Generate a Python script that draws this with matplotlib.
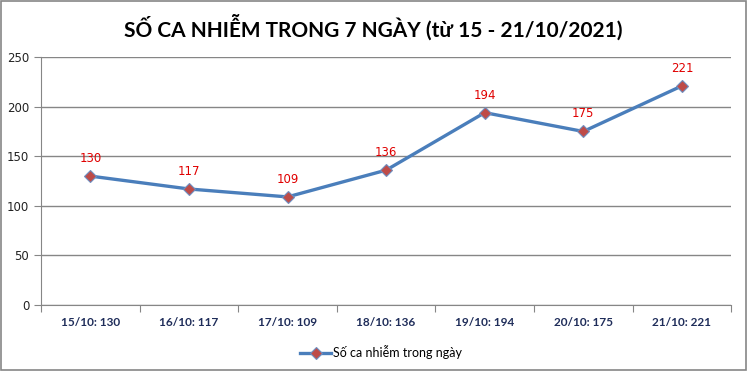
import matplotlib.pyplot as plt
from matplotlib.patches import Rectangle

days = ["15/10", "16/10", "17/10", "18/10", "19/10", "20/10", "21/10"]
cases = [130, 117, 109, 136, 194, 175, 221]
tick_labels = [f"{d}: {c}" for d, c in zip(days, cases)]

fig = plt.figure(figsize=(7.47, 3.71), dpi=100)
fig.patches.append(Rectangle((0.001, 0.002), 0.997, 0.995, transform=fig.transFigure,
                             fill=False, edgecolor="#868686", linewidth=1.2))

ax = fig.add_axes([0.0549, 0.178, 0.924, 0.668])
x = list(range(len(days)))
ax.plot(x, cases, color="#4A7EBB", linewidth=2.4, marker="D", markersize=6.5,
        markerfacecolor="#BE4B48", markeredgecolor="#6F8FC0", markeredgewidth=0.8,
        label="Số ca nhiễm trong ngày", zorder=3)

for xi, c in zip(x, cases):
    ax.annotate(str(c), (xi, c), xytext=(0, 8), textcoords="offset points",
                ha="center", va="bottom", color="#E00000", fontsize=8.5,
                family=["DejaVu Sans"])

ax.set_xlim(-0.5, len(days) - 0.5)
ax.set_ylim(0, 250)
ax.set_yticks([0, 50, 100, 150, 200, 250])
ax.grid(axis="y", color="#868686", linewidth=1)
ax.set_axisbelow(True)

ax.set_xticks([i - 0.5 for i in range(len(days) + 1)])
ax.set_xticklabels([])
ax.set_xticks(x, minor=True)
ax.set_xticklabels(tick_labels, minor=True, fontsize=8.5, fontweight="bold", color="#1F2D5A",
                   family=["Lato", "DejaVu Sans"])
ax.tick_params(axis="x", which="minor", length=0, pad=9)
ax.tick_params(axis="x", which="major", length=5, color="#868686")
ax.tick_params(axis="y", length=5, color="#868686", labelsize=8.5, labelcolor="#222222")

for s in ["top", "right"]:
    ax.spines[s].set_visible(False)
for s in ["left", "bottom"]:
    ax.spines[s].set_color("#868686")

fig.text(0.5, 0.927, "SỐ CA NHIỄM TRONG 7 NGÀY (từ 15 - 21/10/2021)", ha="center", va="center",
         fontsize=15, fontweight="bold", family=["Lato", "DejaVu Sans"])

fig.legend(loc="center", bbox_to_anchor=(0.51, 0.05), frameon=False,
           prop={"family": ["Lato", "DejaVu Sans"], "size": 9},
           handlelength=2.5, handletextpad=0.1)

fig.savefig("out.png", dpi=100)
